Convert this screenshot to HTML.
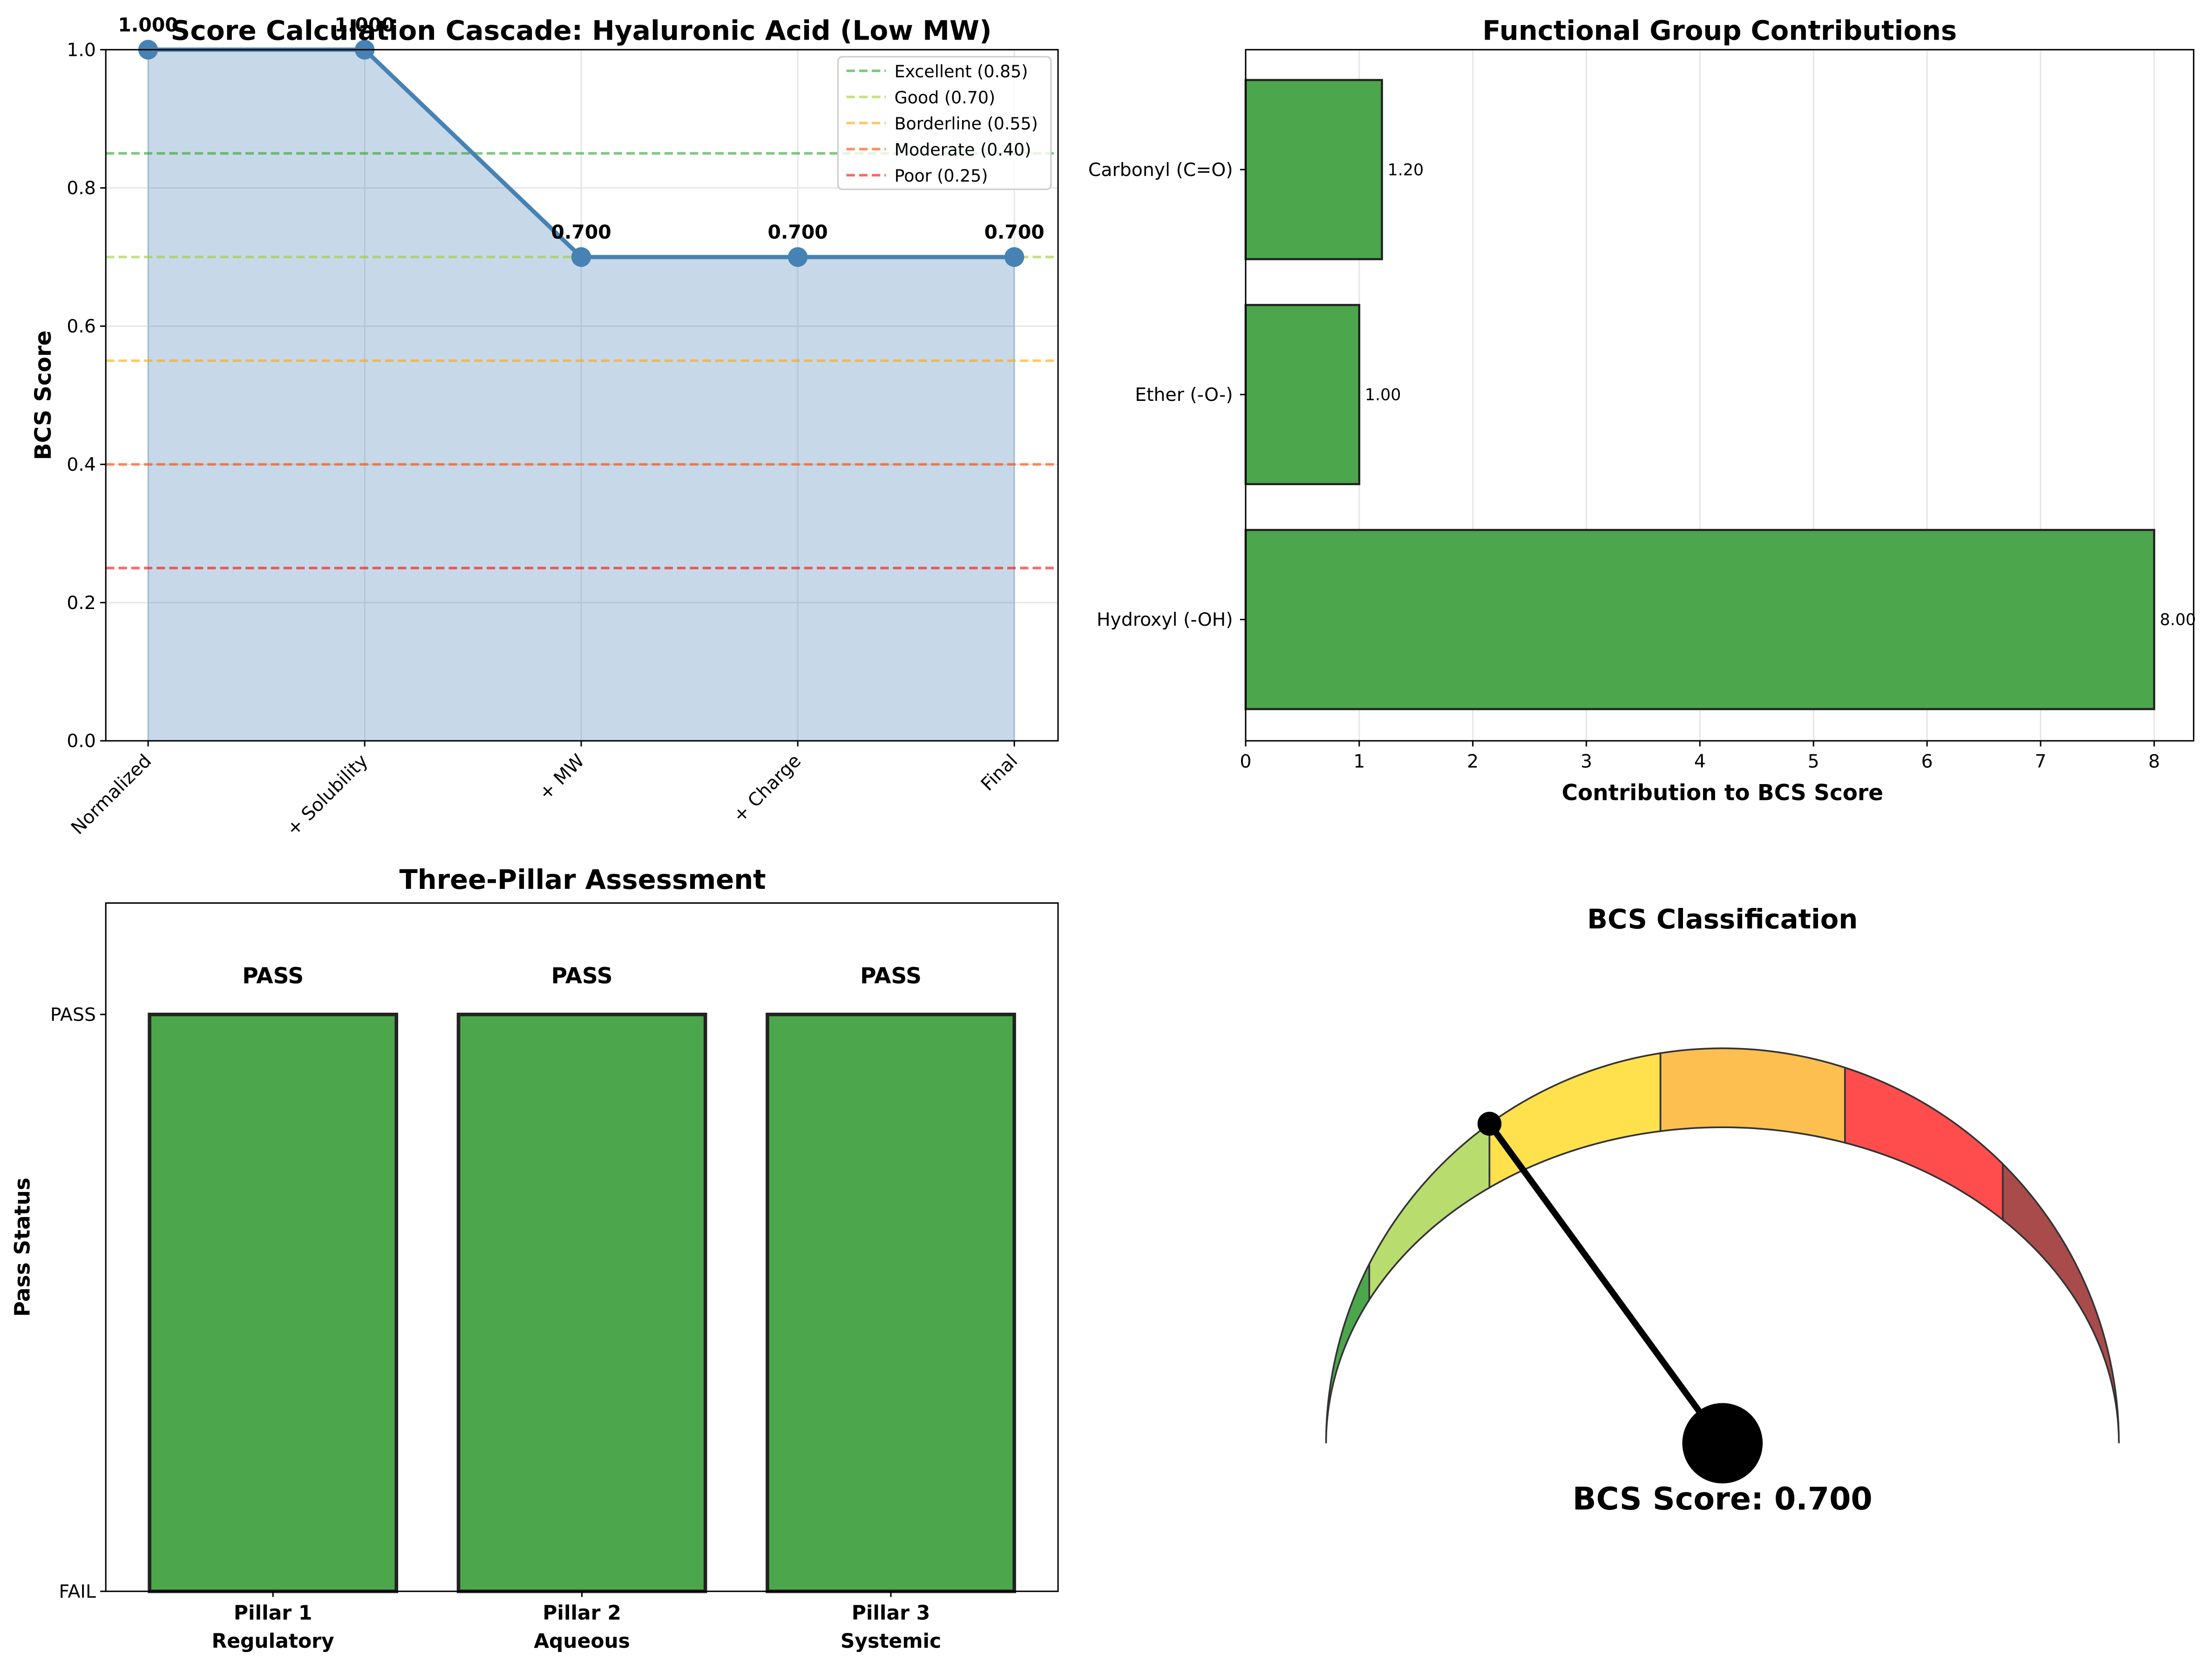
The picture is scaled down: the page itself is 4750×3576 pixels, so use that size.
<!DOCTYPE html>
<html><head><meta charset="utf-8"><style>
html,body{margin:0;padding:0;background:#fff;width:4750px;height:3576px;overflow:hidden}
svg{display:block}
text{font-family:"DejaVu Sans","Liberation Sans",sans-serif;fill:#000}
</style></head><body>
<svg id="fig" width="4750" height="3576" viewBox="0 0 1568 1180" xmlns="http://www.w3.org/2000/svg">
<rect width="1568" height="1180" fill="#fff"/>
</svg>
<script>
// ---- data ----
const cascadeSteps = ["Normalized", "+ Solubility", "+ MW", "+ Charge", "Final"];
const cascadeScores = [1.0, 1.0, 0.7, 0.7, 0.7];
const thresholdNames = ["Excellent (0.85)", "Good (0.70)", "Borderline (0.55)", "Moderate (0.40)", "Poor (0.25)"];
const thresholdValues = [0.85, 0.70, 0.55, 0.40, 0.25];
const thresholdColors = ["#2ca02c", "#9acd32", "#ffa500", "#ff4500", "#ff0000"];
const yTicks = [0, 0.2, 0.4, 0.6, 0.8, 1.0];
const groupNames = ["Carbonyl (C=O)", "Ether (-O-)", "Hydroxyl (-OH)"];
const groupValues = [1.2, 1.0, 8.0];
const xTicksGroups = [0, 1, 2, 3, 4, 5, 6, 7, 8];
const pillarNames = [["Pillar 1", "Regulatory"], ["Pillar 2", "Aqueous"], ["Pillar 3", "Systemic"]];
const pillarPass = [1, 1, 1];
const gaugeBounds = [1.0, 0.85, 0.70, 0.55, 0.40, 0.25, 0.0];
const gaugeColors = ["#4ca64c", "#b8dc6e", "#ffe14d", "#fdbf4f", "#ff4d4d", "#a94b4b"];
const finalScore = 0.700;

const NS = "http://www.w3.org/2000/svg";
const svg = document.getElementById("fig");
function el(tag, attrs, parent, txt) {
  const e = document.createElementNS(NS, tag);
  for (const k in attrs) e.setAttribute(k, attrs[k]);
  if (txt !== undefined) e.textContent = txt;
  (parent || svg).appendChild(e);
  return e;
}
const TICK = 13;

// ---- Panel 1: cascade ----
(function () {
  const L = 75, R = 750, T = 35, B = 525;
  const g = el("g", {});
  
  
  const n = cascadeSteps.length;
  const xs = i => 105 + i * (719 - 105) / (n - 1);
  const ys = v => B - v * (B - T);
  yTicks.forEach(v => el("line", {x1: L, x2: R, y1: ys(v), y2: ys(v), stroke: "#e6e6e6", "stroke-width": 1}, g));
  cascadeSteps.forEach((c, i) => el("line", {x1: xs(i), x2: xs(i), y1: T, y2: B, stroke: "#e6e6e6", "stroke-width": 1}, g));
  let d = "M" + xs(0) + "," + B;
  cascadeScores.forEach((v, i) => d += " L" + xs(i) + "," + ys(v));
  d += " L" + xs(n - 1) + "," + B + " Z";
  const area = el("path", {d: d, fill: "#4682b4", "fill-opacity": 0.3, stroke: "#4682b4", "stroke-opacity": 0.3}, g);
  
  
  thresholdValues.forEach((v, i) => {
    const l = el("line", {x1: L, x2: R, y1: ys(v), y2: ys(v), stroke: thresholdColors[i], "stroke-opacity": 0.6, "stroke-width": 1.8, "stroke-dasharray": "6,3"}, g);
    
    
  });
  const pts = cascadeScores.map((v, i) => xs(i) + "," + ys(v)).join(" ");
  const pl = el("polyline", {points: pts, fill: "none", stroke: "#4682b4", "stroke-width": 3}, g);
  
  
  cascadeScores.forEach((v, i) => {
    const c = el("circle", {cx: xs(i), cy: ys(v), r: 7, fill: "#4682b4"}, g);
    
    
    const t = el("text", {x: xs(i), y: ys(v) - 13, "text-anchor": "middle", "font-size": 13.5, "font-weight": "bold"}, g, v.toFixed(3));
    
    
  });
  el("rect", {x: L, y: T, width: R - L, height: B - T, fill: "none", stroke: "#000", "stroke-width": 1}, g);
  yTicks.forEach(v => {
    el("line", {x1: L - 4, x2: L, y1: ys(v), y2: ys(v), stroke: "#000"}, g);
    const t = el("text", {x: L - 7, y: ys(v) + 4.5, "text-anchor": "end", "font-size": TICK}, g, v.toFixed(1));
    
    
  });
  cascadeSteps.forEach((c, i) => {
    el("line", {x1: xs(i), x2: xs(i), y1: B, y2: B + 4, stroke: "#000"}, g);
    const t = el("text", {x: xs(i) + 3, y: B + 15, "text-anchor": "end", "font-size": TICK, transform: "rotate(-45 " + (xs(i) + 3) + " " + (B + 15) + ")"}, g, c);
    
    
  });
  const yl = el("text", {x: 36, y: 280, "text-anchor": "middle", "font-size": 16, "font-weight": "bold", transform: "rotate(-90 36 280)"}, g, "BCS Score");
  
  
  const ti = el("text", {x: 412, y: 28, "text-anchor": "middle", "font-size": 19, "font-weight": "bold", textLength: 582, lengthAdjust: "spacingAndGlyphs"}, g, "Score Calculation Cascade: Hyaluronic Acid (Low MW)");
  
  
  const lg = el("g", {}, g);
  
  
  el("rect", {x: 594, y: 40, width: 151, height: 94, rx: 3, fill: "#fff", "fill-opacity": 0.8, stroke: "#ccc"}, lg);
  thresholdNames.forEach((nm, i) => {
    const y = 50 + i * 18.5;
    el("line", {x1: 600, x2: 628, y1: y, y2: y, stroke: thresholdColors[i], "stroke-opacity": 0.6, "stroke-width": 1.8, "stroke-dasharray": "6,3"}, lg);
    const t = el("text", {x: 634, y: y + 4.5, "font-size": 12}, lg, nm);
    
    
  });
})();

// ---- Panel 2: functional groups ----
(function () {
  const L = 883, R = 1555, T = 35, B = 525;
  const g = el("g", {});
  
  
  const xs = v => L + v * (1527 - L) / 8;
  const yc = i => 120 + i * 159.5;
  const bh = 127;
  xTicksGroups.forEach(v => el("line", {x1: xs(v), x2: xs(v), y1: T, y2: B, stroke: "#e6e6e6"}, g));
  groupValues.forEach((v, i) => {
    const r = el("rect", {x: xs(0), y: yc(i) - bh / 2, width: xs(v) - xs(0), height: bh, fill: "#4ca64c", stroke: "#222", "stroke-width": 1.5}, g);
    
    
    const t = el("text", {x: xs(v) + 4, y: yc(i) + 4, "font-size": 11.5}, g, v.toFixed(2));
    
    
    el("line", {x1: L - 4, x2: L, y1: yc(i), y2: yc(i), stroke: "#000"}, g);
    const lt = el("text", {x: L - 9, y: yc(i) + 4.5, "text-anchor": "end", "font-size": TICK}, g, groupNames[i]);
    
    
  });
  el("rect", {x: L, y: T, width: R - L, height: B - T, fill: "none", stroke: "#000"}, g);
  xTicksGroups.forEach(v => {
    el("line", {x1: xs(v), x2: xs(v), y1: B, y2: B + 4, stroke: "#000"}, g);
    const t = el("text", {x: xs(v), y: B + 19, "text-anchor": "middle", "font-size": TICK}, g, String(v));
    
    
  });
  const xl = el("text", {x: 1221, y: 567, "text-anchor": "middle", "font-size": 15.5, "font-weight": "bold"}, g, "Contribution to BCS Score");
  
  
  const ti = el("text", {x: 1219, y: 28, "text-anchor": "middle", "font-size": 19, "font-weight": "bold"}, g, "Functional Group Contributions");
  
  
})();

// ---- Panel 3: pillars ----
(function () {
  const L = 75, R = 750, T = 640, B = 1128;
  const g = el("g", {});
  
  
  const ys = v => B - v * (B - 719);
  const xc = i => 193.5 + i * 219;
  const bw = 175;
  pillarPass.forEach((v, i) => {
    const r = el("rect", {x: xc(i) - bw / 2, y: ys(v), width: bw, height: ys(0) - ys(v), fill: "#4ca64c", stroke: "#222", "stroke-width": 2.5}, g);
    
    
    const t = el("text", {x: xc(i), y: ys(v) - 22, "text-anchor": "middle", "font-size": 15.5, "font-weight": "bold"}, g, v ? "PASS" : "FAIL");
    
    
    el("line", {x1: xc(i), x2: xc(i), y1: B, y2: B + 4, stroke: "#000"}, g);
    const a = el("text", {x: xc(i), y: B + 20, "text-anchor": "middle", "font-size": 14, "font-weight": "bold"}, g, pillarNames[i][0]);
    
    
    const b = el("text", {x: xc(i), y: B + 40, "text-anchor": "middle", "font-size": 14, "font-weight": "bold"}, g, pillarNames[i][1]);
    
    
  });
  el("rect", {x: L, y: T, width: R - L, height: B - T, fill: "none", stroke: "#000"}, g);
  [[0, "FAIL"], [1, "PASS"]].forEach(([v, s]) => {
    el("line", {x1: L - 4, x2: L, y1: ys(v), y2: ys(v), stroke: "#000"}, g);
    const t = el("text", {x: L - 7, y: ys(v) + 4.5, "text-anchor": "end", "font-size": TICK}, g, s);
    
    
  });
  const yl = el("text", {x: 21, y: 884, "text-anchor": "middle", "font-size": 15, "font-weight": "bold", transform: "rotate(-90 21 884)"}, g, "Pass Status");
  
  
  const ti = el("text", {x: 413, y: 630, "text-anchor": "middle", "font-size": 19, "font-weight": "bold"}, g, "Three-Pillar Assessment");
  
  
})();

// ---- Panel 4: gauge ----
(function () {
  const cx = 1221, cy = 1023, rx = 281, ryO = 280, ryI = 224;
  const g = el("g", {});
  
  
  const pO = s => { const a = Math.PI * s; return [cx + rx * Math.cos(a), cy - ryO * Math.sin(a)]; };
  const pI = s => { const a = Math.PI * s; return [cx + rx * Math.cos(a), cy - ryI * Math.sin(a)]; };
  for (let i = 0; i < gaugeColors.length; i++) {
    const s0 = gaugeBounds[i], s1 = gaugeBounds[i + 1];
    let d = "";
    const N = 30;
    for (let k = 0; k <= N; k++) { const s = s0 + (s1 - s0) * k / N; const p = pO(s); d += (k ? " L" : "M") + p[0].toFixed(2) + "," + p[1].toFixed(2); }
    for (let k = N; k >= 0; k--) { const s = s0 + (s1 - s0) * k / N; const p = pI(s); d += " L" + p[0].toFixed(2) + "," + p[1].toFixed(2); }
    d += " Z";
    const w = el("path", {d: d, fill: gaugeColors[i], stroke: "#333", "stroke-width": 1.2}, g);
    
    
  }
  const tip = pO(finalScore);
  const nd = el("line", {x1: cx, y1: cy, x2: tip[0], y2: tip[1], stroke: "#000", "stroke-width": 4.5}, g);
  
  
  el("circle", {cx: tip[0], cy: tip[1], r: 8.5, fill: "#000"}, g);
  const hub = el("circle", {cx: cx, cy: cy, r: 28.5, fill: "#000"}, g);
  
  
  const st = el("text", {x: cx, y: 1070, "text-anchor": "middle", "font-size": 22, "font-weight": "bold"}, g, "BCS Score: " + finalScore.toFixed(3));
  
  
  const ti = el("text", {x: 1221, y: 658, "text-anchor": "middle", "font-size": 19, "font-weight": "bold"}, g, "BCS Classification");
  
  
})();
</script>
</body></html>
